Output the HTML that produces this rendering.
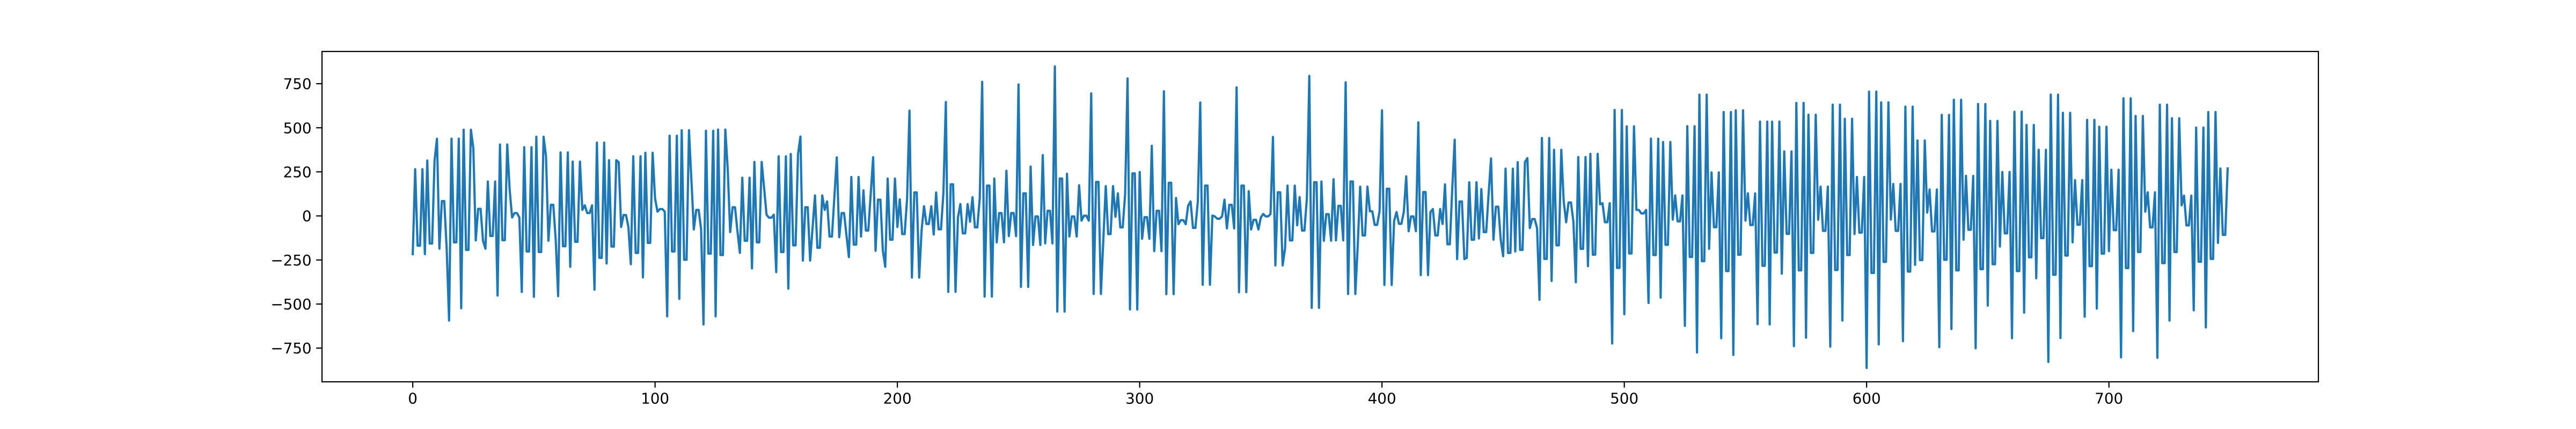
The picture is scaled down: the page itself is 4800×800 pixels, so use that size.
<!DOCTYPE html>
<html lang="en">
<head>
<meta charset="utf-8">
<title>Line chart</title>
<style>
html,body{margin:0;padding:0;background:#fff;width:4800px;height:800px;overflow:hidden}
svg{display:block}
text{font-family:"DejaVu Sans","Liberation Sans",sans-serif;font-size:27.78px;fill:#000}
</style>
</head>
<body>
<svg id="chart" width="4800" height="800" viewBox="0 0 4800 800" xmlns="http://www.w3.org/2000/svg">
<rect x="0" y="0" width="4800" height="800" fill="#fff"/>
<g id="series-layer"></g>
<g id="tick-layer"></g>
<rect x="600" y="96" width="3720" height="616" fill="none" stroke="#000" stroke-width="2.22"/>
</svg>
<script>
const xTickValues = [0,100,200,300,400,500,600,700];
const yTickValues = [-750,-500,-250,0,250,500,750];
const seriesValues = [
-217,265,-169,-169,265,-217,314,-157,-157,314,438,-186,84,84,-184,-594,438,-150,-150,438,-524,489,-193,-193,489,384,-139,40,40,-141,
-186,195,-114,-114,195,-452,405,-138,-138,405,148,-9,16,16,-9,-432,390,-202,-202,390,-459,449,-205,-205,449,338,-141,63,63,-135,
-455,360,-172,-172,360,-289,308,-147,-147,308,34,60,16,16,60,-419,416,-238,-238,416,-270,316,-174,-174,316,305,-63,5,5,-63,
-274,338,-210,-210,338,-349,358,-153,-153,358,100,24,39,39,24,-570,455,-202,-202,455,-471,486,-249,-249,486,203,-77,34,34,-75,
-616,483,-214,-214,483,-570,490,-222,-222,490,263,-92,49,49,-87,-210,217,-141,-141,217,-298,306,-150,-150,306,160,7,-10,-10,7,
-319,338,-205,-205,338,-413,351,-167,-167,351,450,-254,49,49,-254,-69,116,-181,-181,116,34,82,-117,-117,106,332,-121,16,16,-111,
-234,221,-163,-163,221,-117,145,-83,-83,124,333,-198,92,92,-196,-289,212,-135,-135,212,-63,94,-103,-103,94,597,-350,133,133,-350,
-81,55,-46,-46,55,-106,133,-76,-76,130,646,-431,179,179,-431,-9,67,-99,-99,67,-33,106,-65,-65,100,761,-458,172,172,-458,
212,-150,16,16,-150,256,-115,16,16,-115,746,-403,128,128,-403,280,-165,-3,-3,-165,345,-156,29,29,-156,848,-543,212,212,-543,
239,-117,-3,-3,-117,174,-27,1,1,-27,695,-443,193,193,-443,-135,169,-103,-103,169,-5,128,-65,-65,124,780,-531,241,241,-531,
249,-130,-7,-7,-130,398,-200,29,29,-200,707,-444,188,188,-444,102,-47,-24,-24,-47,58,82,-68,-68,82,643,-391,172,172,-391,
2,-3,-16,-16,-3,92,-71,63,63,-71,729,-433,172,172,-433,140,-77,-22,-22,-77,-9,11,-3,-3,11,448,-281,134,134,-281,
-184,172,-139,-139,172,-53,107,-83,-83,100,794,-522,191,191,-522,195,-141,10,10,-141,208,-139,57,57,-139,758,-443,195,195,-443,
-165,166,-111,-111,166,26,26,-51,-51,26,599,-392,154,154,-392,-29,22,-45,-45,22,224,-87,-3,-3,-87,531,-336,135,135,-336,
22,39,-111,-111,39,-46,179,-161,-161,154,432,-245,82,82,-245,-238,191,-135,-135,191,-128,152,-92,-92,124,326,-135,52,52,-135,
-229,268,-210,-210,268,-202,305,-193,-193,305,328,-69,-18,-18,-69,-476,442,-244,-244,442,-369,375,-167,-167,375,82,-36,76,76,-33,
-377,334,-187,-187,334,-285,352,-220,-220,352,66,72,-36,-36,72,-724,601,-295,-295,601,-558,508,-213,-213,508,34,34,14,14,34,
-494,438,-222,-222,438,-464,419,-164,-164,419,-21,116,-31,-31,116,-624,509,-233,-233,509,-775,688,-257,-257,688,-187,247,-64,-64,247,
-694,589,-313,-313,589,-789,599,-220,-220,599,-27,128,-52,-52,128,-614,535,-283,-283,535,-616,535,-208,-208,535,-328,366,-102,-102,366,
-739,641,-309,-309,641,-691,574,-210,-210,574,-22,166,-85,-85,166,-742,631,-307,-307,631,-594,551,-222,-222,551,-103,221,-95,-95,221,
-863,705,-324,-324,705,-729,644,-261,-261,644,-21,181,-85,-85,181,-711,620,-316,-316,620,-278,428,-251,-251,428,19,150,-88,-88,150,
-745,573,-249,-249,573,-642,659,-309,-309,659,-135,227,-79,-79,227,-751,635,-302,-302,635,-509,539,-274,-274,539,-174,249,-99,-99,249,
-694,591,-313,-313,591,-549,516,-235,-235,516,-354,375,-126,-126,375,-829,688,-334,-334,688,-693,585,-225,-225,585,-150,203,-50,-50,203,
-572,545,-285,-285,545,-526,506,-214,-214,506,-200,262,-81,-81,262,-803,667,-296,-296,667,-654,567,-205,-205,567,24,134,-65,-65,134,
-805,631,-268,-268,631,-594,554,-205,-205,554,60,115,-54,-54,115,-536,501,-260,-260,501,-633,589,-244,-244,589,-153,269,-108,-108,269
];
const NS = 'http://www.w3.org/2000/svg';
const plotLeft = 600, plotRight = 4320, plotTop = 96, plotBottom = 712;
const xMin = -37.45, xMax = 786.45, yMin = -941.3, yMax = 932.8;
function xScale(v){ return plotLeft + (v - xMin) / (xMax - xMin) * (plotRight - plotLeft); }
function yScale(v){ return plotBottom - (v - yMin) / (yMax - yMin) * (plotBottom - plotTop); }
function fmt(v){ return String(v).replace('-', '\u2212'); }

const seriesLayer = document.getElementById('series-layer');
const tickLayer = document.getElementById('tick-layer');

const line = document.createElementNS(NS, 'polyline');


line.setAttribute('points', seriesValues.map(function(v, i){ return xScale(i).toFixed(2) + ',' + yScale(v).toFixed(2); }).join(' '));
line.setAttribute('fill', 'none');
line.setAttribute('stroke', '#1f77b4');
line.setAttribute('stroke-width', '4.17');
line.setAttribute('stroke-linejoin', 'round');
line.setAttribute('stroke-linecap', 'square');
seriesLayer.appendChild(line);

xTickValues.forEach(function(v){
  const px = xScale(v);
  const mark = document.createElementNS(NS, 'line');
  
  
  mark.setAttribute('x1', px);
  mark.setAttribute('x2', px);
  mark.setAttribute('y1', plotBottom);
  mark.setAttribute('y2', plotBottom + 10.8);
  mark.setAttribute('stroke', '#000');
  mark.setAttribute('stroke-width', '2.22');
  tickLayer.appendChild(mark);
  const label = document.createElementNS(NS, 'text');
  
  
  label.setAttribute('x', px);
  label.setAttribute('y', plotBottom + 40.5);
  label.setAttribute('text-anchor', 'middle');
  label.textContent = fmt(v);
  tickLayer.appendChild(label);
});

yTickValues.forEach(function(v){
  const py = yScale(v);
  const mark = document.createElementNS(NS, 'line');
  
  
  mark.setAttribute('x1', plotLeft - 10.8);
  mark.setAttribute('x2', plotLeft);
  mark.setAttribute('y1', py);
  mark.setAttribute('y2', py);
  mark.setAttribute('stroke', '#000');
  mark.setAttribute('stroke-width', '2.22');
  tickLayer.appendChild(mark);
  const label = document.createElementNS(NS, 'text');
  
  
  label.setAttribute('x', plotLeft - 19.4);
  label.setAttribute('y', py + 10.1);
  label.setAttribute('text-anchor', 'end');
  label.textContent = fmt(v);
  tickLayer.appendChild(label);
});
</script>
</body>
</html>
